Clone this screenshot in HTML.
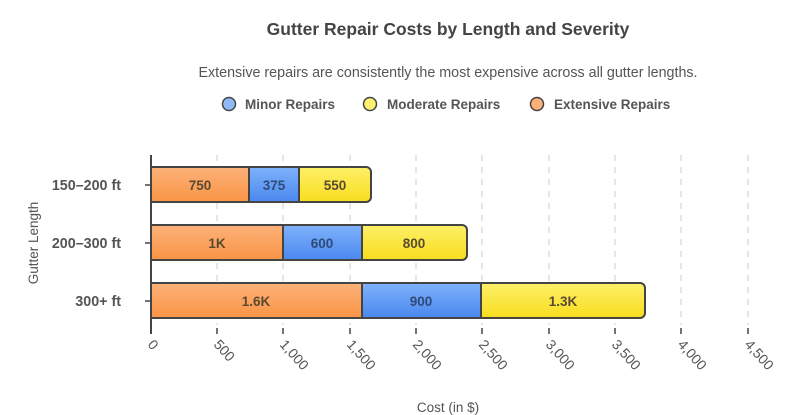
<!DOCTYPE html>
<html><head><meta charset="utf-8"><style>
html,body{margin:0;padding:0;background:#fff;width:800px;height:415px;overflow:hidden}
svg text{font-family:"Liberation Sans",sans-serif}
</style></head><body>
<svg width="800" height="415" viewBox="0 0 800 415" xmlns="http://www.w3.org/2000/svg">
<defs>
<linearGradient id="o" x1="0" y1="0" x2="0" y2="1"><stop offset="0" stop-color="#fdb27a"/><stop offset="1" stop-color="#f99445"/></linearGradient>
<linearGradient id="b" x1="0" y1="0" x2="0" y2="1"><stop offset="0" stop-color="#7fb2fb"/><stop offset="1" stop-color="#4a88ef"/></linearGradient>
<linearGradient id="y" x1="0" y1="0" x2="0" y2="1"><stop offset="0" stop-color="#fdf068"/><stop offset="1" stop-color="#f8dd1e"/></linearGradient>
</defs>
<text x="448" y="35" text-anchor="middle" font-size="17.5" font-weight="bold" fill="#444">Gutter Repair Costs by Length and Severity</text>
<text x="448" y="77" text-anchor="middle" font-size="14.3" fill="#555">Extensive repairs are consistently the most expensive across all gutter lengths.</text>
<g font-size="13.5" font-weight="bold" fill="#555">
<circle cx="229" cy="104" r="6.5" fill="#8fbaf8" stroke="#444" stroke-width="1.5"/><text x="245" y="109">Minor Repairs</text>
<circle cx="370" cy="104" r="6.5" fill="#fdf16f" stroke="#444" stroke-width="1.5"/><text x="387" y="109">Moderate Repairs</text>
<circle cx="537" cy="104" r="6.5" fill="#fdb07a" stroke="#444" stroke-width="1.5"/><text x="554" y="109">Extensive Repairs</text>
</g>
<g stroke="#ccc" stroke-dasharray="6,6" stroke-width="1">
<line x1="217" y1="155" x2="217" y2="325"/><line x1="283" y1="155" x2="283" y2="325"/><line x1="350" y1="155" x2="350" y2="325"/><line x1="416" y1="155" x2="416" y2="325"/><line x1="482" y1="155" x2="482" y2="325"/><line x1="549" y1="155" x2="549" y2="325"/><line x1="615" y1="155" x2="615" y2="325"/><line x1="681" y1="155" x2="681" y2="325"/><line x1="748" y1="155" x2="748" y2="325"/>
</g>
<g stroke="#444" stroke-width="2">
<path d="M151 167 H366 a5 5 0 0 1 5 5 V197 a5 5 0 0 1 -5 5 H151 Z" fill="url(#y)"/>
<rect x="249" y="167" width="50" height="35" fill="url(#b)"/>
<rect x="151" y="167" width="98" height="35" fill="url(#o)"/>
<path d="M151 225 H462 a5 5 0 0 1 5 5 V255 a5 5 0 0 1 -5 5 H151 Z" fill="url(#y)"/>
<rect x="283" y="225" width="79" height="35" fill="url(#b)"/>
<rect x="151" y="225" width="132" height="35" fill="url(#o)"/>
<path d="M151 283 H640 a5 5 0 0 1 5 5 V313 a5 5 0 0 1 -5 5 H151 Z" fill="url(#y)"/>
<rect x="362" y="283" width="119" height="35" fill="url(#b)"/>
<rect x="151" y="283" width="211" height="35" fill="url(#o)"/>
</g>
<line x1="151" y1="155" x2="151" y2="334" stroke="#444" stroke-width="2"/>
<g stroke="#444" stroke-width="1.5">
<line x1="145" y1="185" x2="151" y2="185"/><line x1="145" y1="243" x2="151" y2="243"/><line x1="145" y1="301" x2="151" y2="301"/>
<line x1="217" y1="328" x2="217" y2="334"/><line x1="283" y1="328" x2="283" y2="334"/><line x1="350" y1="328" x2="350" y2="334"/><line x1="416" y1="328" x2="416" y2="334"/><line x1="482" y1="328" x2="482" y2="334"/><line x1="549" y1="328" x2="549" y2="334"/><line x1="615" y1="328" x2="615" y2="334"/><line x1="681" y1="328" x2="681" y2="334"/><line x1="748" y1="328" x2="748" y2="334"/>
</g>
<g font-size="13.5" font-weight="bold" fill="#5a4a30" text-anchor="middle">
<text x="200" y="190">750</text><text x="274" y="190" fill="#2f4a78">375</text><text x="335" y="190">550</text>
<text x="217" y="248">1K</text><text x="322" y="248" fill="#2f4a78">600</text><text x="414" y="248">800</text>
<text x="256" y="306">1.6K</text><text x="421" y="306" fill="#2f4a78">900</text><text x="563" y="306">1.3K</text>
</g>
<g font-size="14.3" font-weight="bold" fill="#555" text-anchor="end">
<text x="121" y="190">150–200 ft</text><text x="121" y="248">200–300 ft</text><text x="121" y="306">300+ ft</text>
</g>
<text transform="translate(38,243) rotate(-90)" text-anchor="middle" font-size="13.5" fill="#555">Gutter Length</text>
<g font-size="14" fill="#555">
<text transform="translate(147,345) rotate(48)">0</text>
<text transform="translate(213,345) rotate(48)">500</text>
<text transform="translate(279,345) rotate(48)">1,000</text>
<text transform="translate(346,345) rotate(48)">1,500</text>
<text transform="translate(412,345) rotate(48)">2,000</text>
<text transform="translate(478,345) rotate(48)">2,500</text>
<text transform="translate(545,345) rotate(48)">3,000</text>
<text transform="translate(611,345) rotate(48)">3,500</text>
<text transform="translate(677,345) rotate(48)">4,000</text>
<text transform="translate(744,345) rotate(48)">4,500</text>
</g>
<text x="448" y="412" text-anchor="middle" font-size="13.5" fill="#555">Cost (in $)</text>
</svg>
</body></html>
